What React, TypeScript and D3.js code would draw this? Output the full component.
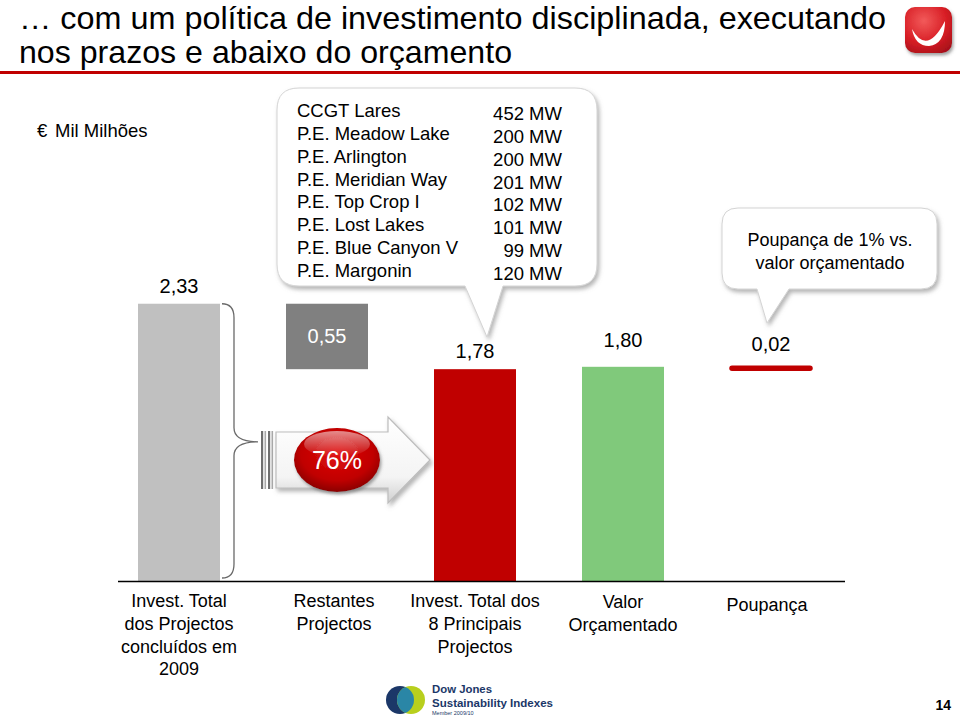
import React from "react";
import * as d3 from "d3";

// ---- data ----
const categoryIds = ["total2009", "restantes", "principais", "orcamentado", "poupanca"];
const categoryLines = [
  ["Invest. Total", "dos Projectos", "concluídos em", "2009"],
  ["Restantes", "Projectos"],
  ["Invest. Total dos", "8 Principais", "Projectos"],
  ["Valor", "Orçamentado"],
  ["Poupança"],
];
const barValues = [2.33, 0.55, 1.78, 1.8, 0.02];
const barBases = [0, 1.78, 0, 0, 1.78];
const barLabels = ["2,33", "0,55", "1,78", "1,80", "0,02"];
const barColors = ["#C0C0C0", "#808080", "#C00000", "#80C97B", "#C00000"];

const projectNames = [
  "CCGT Lares",
  "P.E. Meadow Lake",
  "P.E. Arlington",
  "P.E. Meridian Way",
  "P.E. Top Crop I",
  "P.E. Lost Lakes",
  "P.E. Blue Canyon V",
  "P.E. Margonin",
];
const projectMW = [452, 200, 200, 201, 102, 101, 99, 120];

const titleLines = [
  "… com um política de investimento disciplinada, executando",
  "nos prazos e abaixo do orçamento",
];
const unitSymbol = "€";
const unitLabel = "Mil Milhões";
const shareLabel = "76%";
const savingsNote = ["Poupança de 1% vs.", "valor orçamentado"];

// ---- layout ----
const W = 960;
const H = 717;
const FONT = "'Liberation Sans', Arial, Helvetica, sans-serif";
const baseY = 581;
const labelLift = [11, 0, 11, 20, 16];

function calloutPath(
  x0: number, y0: number, x1: number, y1: number, r: number,
  pa: number, pb: number, tx: number, ty: number
) {
  return [
    `M${x0 + r},${y0}`,
    `L${x1 - r},${y0}`,
    `Q${x1},${y0} ${x1},${y0 + r}`,
    `L${x1},${y1 - r}`,
    `Q${x1},${y1} ${x1 - r},${y1}`,
    `L${pb},${y1}`,
    `L${tx},${ty}`,
    `L${pa},${y1}`,
    `L${x0 + r},${y1}`,
    `Q${x0},${y1} ${x0},${y1 - r}`,
    `L${x0},${y0 + r}`,
    `Q${x0},${y0} ${x0 + r},${y0}`,
    "Z",
  ].join(" ");
}

export default function App() {
  const x = d3
    .scaleBand<string>()
    .domain(categoryIds)
    .range([105, 845])
    .paddingInner(0.446)
    .paddingOuter(0.223);
  const y = d3.scaleLinear().domain([0, 1]).range([baseY, baseY - 119]);
  const bw = x.bandwidth();

  const bars = categoryIds.map((id, i) => {
    const x0 = x(id) as number;
    const top = y(barBases[i] + barValues[i]);
    const bot = y(barBases[i]);
    return { id, i, x0, cx: x0 + bw / 2, top, bot };
  });

  const b0 = bars[0];
  const braceX = b0.x0 + bw + 2;
  const braceTop = b0.top;
  const braceBot = baseY - 3;
  const braceMid = (braceTop + braceBot) / 2 + 1;

  return (
    <svg
      width={W}
      height={H}
      viewBox={`0 0 ${W} ${H}`}
      style={{ position: "absolute", left: 0, top: 0, background: "#fff", fontFamily: FONT }}
    >
      <defs>
        <filter id="shadow" x="-10%" y="-10%" width="130%" height="140%">
          <feDropShadow dx="2" dy="3" stdDeviation="2.2" floodColor="#777" floodOpacity="0.55" />
        </filter>
        <filter id="shadowSm" x="-20%" y="-20%" width="150%" height="160%">
          <feDropShadow dx="1.5" dy="2.5" stdDeviation="1.5" floodColor="#666" floodOpacity="0.6" />
        </filter>
        <radialGradient id="logoGrad" cx="40%" cy="30%" r="80%">
          <stop offset="0%" stopColor="#f25a5a" />
          <stop offset="60%" stopColor="#d81e25" />
          <stop offset="100%" stopColor="#a8101a" />
        </radialGradient>
        <radialGradient id="ovalGrad" cx="50%" cy="40%" r="60%">
          <stop offset="0%" stopColor="#e01010" />
          <stop offset="70%" stopColor="#c00000" />
          <stop offset="100%" stopColor="#8a0000" />
        </radialGradient>
        <linearGradient id="ovalHi" x1="0" y1="0" x2="0" y2="1">
          <stop offset="0%" stopColor="#fff" stopOpacity="0.55" />
          <stop offset="100%" stopColor="#fff" stopOpacity="0" />
        </linearGradient>
        <linearGradient id="arrowGrad" x1="0" y1="0" x2="0" y2="1">
          <stop offset="0%" stopColor="#ffffff" />
          <stop offset="70%" stopColor="#f4f4f4" />
          <stop offset="100%" stopColor="#cfcfcf" />
        </linearGradient>
        <clipPath id="djClip">
          <circle cx={411} cy={700} r={14} />
        </clipPath>
      </defs>

      {/* title */}
      <text x={19} y={29} fontSize={31.5} fill="#000" textLength={867} lengthAdjust="spacingAndGlyphs">
        {titleLines[0]}
      </text>
      <text x={19} y={63} fontSize={32} fill="#000" textLength={493} lengthAdjust="spacingAndGlyphs">
        {titleLines[1]}
      </text>
      <rect x={0} y={71} width={W} height={3} fill="#C00000" />

      {/* logo top-right */}
      <rect x={905} y={7} width={47} height={46} rx={10} fill="url(#logoGrad)" filter="url(#shadowSm)" />
      <path
        d="M912,29 Q927,56 945,21 Q945,44 929,46 Q915,46 912,29 Z"
        fill="#fff"
      />

      {/* unit label */}
      <text x={37} y={137} fontSize={18.5} fill="#000">
        {unitSymbol}
      </text>
      <text x={55} y={137} fontSize={18.5} fill="#000">
        {unitLabel}
      </text>

      {/* projects callout */}
      <path
        d={calloutPath(277, 88, 597, 286, 22, 465, 503, 487, 337)}
        fill="#fff"
        stroke="#d4d4d4"
        strokeWidth={1}
        filter="url(#shadow)"
      />
      {projectNames.map((n, i) => (
        <text key={n} x={297} y={117 + i * 22.86} fontSize={18.5} fill="#000">
          {n}
        </text>
      ))}
      {projectMW.map((v, i) => (
        <text key={i} x={562} y={120 + i * 22.86} fontSize={18.5} fill="#000" textAnchor="end">
          {`${v} MW`}
        </text>
      ))}

      {/* savings callout */}
      <path
        d={calloutPath(722, 208, 937, 289, 16, 757, 789, 767, 323)}
        fill="#fff"
        stroke="#d4d4d4"
        strokeWidth={1}
        filter="url(#shadow)"
      />
      {savingsNote.map((t, i) => (
        <text key={t} x={830} y={246 + i * 23} fontSize={18} textAnchor="middle" fill="#000">
          {t}
        </text>
      ))}

      {/* bars */}
      {bars.map((b) => {
        const h = Math.max(b.bot - b.top, 2);
        const isThin = b.bot - b.top < 4;
        return (
          <rect
            key={b.id}
            x={b.x0}
            y={isThin ? b.top - 0.5 : b.top}
            width={bw}
            height={isThin ? h + 1.5 : h}
            rx={isThin ? 2 : 0}
            fill={barColors[b.i]}
            stroke={isThin ? barColors[b.i] : "none"}
            strokeWidth={isThin ? 1.5 : 0}
            strokeLinejoin="round"
          />
        );
      })}

      {/* value labels */}
      {bars.map((b) =>
        b.i === 1 ? (
          <text
            key={`l${b.id}`}
            x={b.cx}
            y={(b.top + b.bot) / 2 + 7}
            fontSize={20}
            fill="#fff"
            textAnchor="middle"
          >
            {barLabels[b.i]}
          </text>
        ) : (
          <text
            key={`l${b.id}`}
            x={b.cx}
            y={b.top - labelLift[b.i]}
            fontSize={20}
            fill="#000"
            textAnchor="middle"
          >
            {barLabels[b.i]}
          </text>
        )
      )}

      {/* axis line */}
      <line x1={118} x2={845} y1={baseY + 0.5} y2={baseY + 0.5} stroke="#000" strokeWidth={1.5} />

      {/* curly brace */}
      <path
        d={`M${braceX},${braceTop} Q${braceX + 12},${braceTop} ${braceX + 12},${braceTop + 14}
            L${braceX + 12},${braceMid - 14} Q${braceX + 12},${braceMid} ${braceX + 36},${braceMid}
            Q${braceX + 12},${braceMid} ${braceX + 12},${braceMid + 14}
            L${braceX + 12},${braceBot - 14} Q${braceX + 12},${braceBot} ${braceX},${braceBot}`}
        fill="none"
        stroke="#6a6a6a"
        strokeWidth={1.3}
      />

      {/* arrow */}
      <g filter="url(#shadow)">
        <path
          d="M276,432 L388,432 L388,417 L430,460 L388,503 L388,488 L276,488 Z"
          fill="url(#arrowGrad)"
          stroke="#bdbdbd"
          strokeWidth={1.2}
        />
      </g>
      {[261, 264.5, 268, 271.5].map((sx, k) => (
        <rect key={sx} x={sx} y={431} width={k % 2 === 0 ? 2.2 : 1.6} height={58} fill={k % 2 === 0 ? "#6e6e6e" : "#a8a8a8"} />
      ))}

      {/* 76% oval */}
      <g filter="url(#shadowSm)">
        <ellipse cx={337} cy={460} rx={43} ry={32} fill="url(#ovalGrad)" />
      </g>
      <ellipse cx={337} cy={444} rx={33} ry={13} fill="url(#ovalHi)" />
      <text x={337} y={469} fontSize={25} fill="#fff" textAnchor="middle">
        {shareLabel}
      </text>

      {/* category labels */}
      {bars.map((b) =>
        categoryLines[b.i].map((line, j) => (
          <text
            key={`c${b.id}${j}`}
            x={b.cx + (b.i === 4 ? -4 : b.i === 1 ? 7 : 0)}
            y={(b.i === 4 ? 611 : b.i === 3 ? 608 : 607) + j * 22.8}
            fontSize={18}
            fill="#000"
            textAnchor="middle"
          >
            {line}
          </text>
        ))
      )}

      {/* DJSI logo */}
      <circle cx={400} cy={700} r={14} fill="#1b3768" />
      <circle cx={411} cy={700} r={14} fill="#b8cf1d" />
      <circle cx={400} cy={700} r={14} fill="#2a86a6" clipPath="url(#djClip)" />
      <text x={432} y={693} fontSize={11.5} fontWeight="bold" fill="#1b3768" textLength={60} lengthAdjust="spacingAndGlyphs">
        Dow Jones
      </text>
      <text x={432} y={706.5} fontSize={11} fontWeight="bold" fill="#1b3768" textLength={121} lengthAdjust="spacingAndGlyphs">
        Sustainability Indexes
      </text>
      <text x={432} y={715} fontSize={5.5} fill="#1b3768">
        Member 2009/10
      </text>

      {/* page number */}
      <text x={951} y={710} fontSize={14} fontWeight="bold" fill="#000" textAnchor="end">
        14
      </text>
    </svg>
  );
}
